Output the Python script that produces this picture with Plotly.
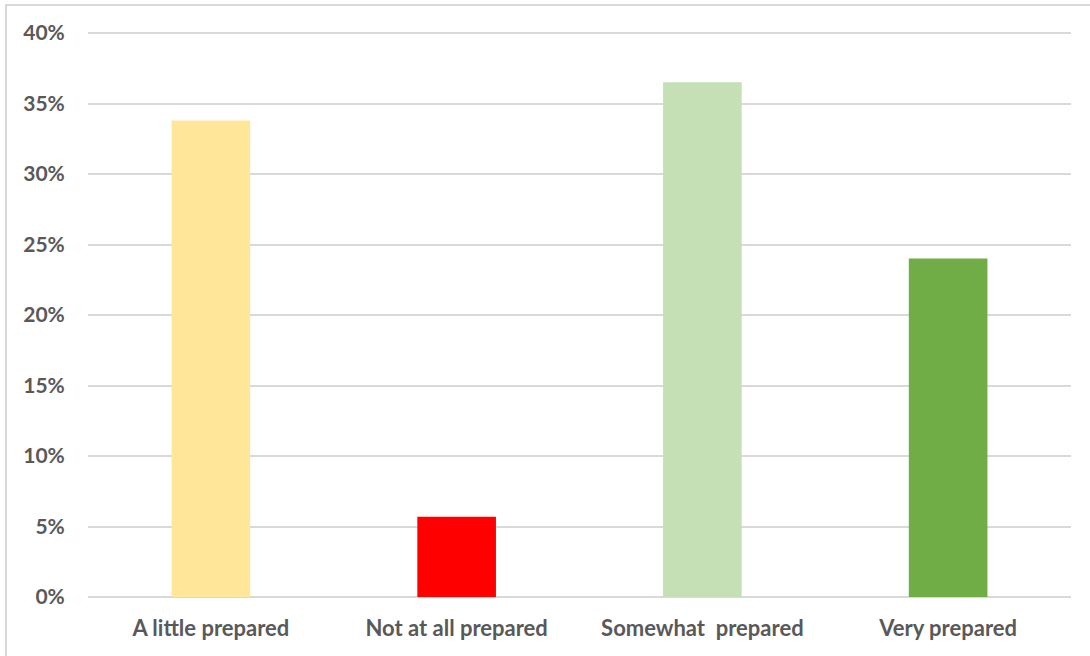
import plotly.graph_objects as go

# Survey responses: share of respondents by preparedness level
categories = ["A little prepared", "Not at all prepared", "Somewhat\u00a0 prepared", "Very prepared"]
shares = [0.338, 0.057, 0.365, 0.240]
bar_colors = ["#FFE699", "#FF0000", "#C5E0B4", "#70AD47"]
y_ticks = [0, 0.05, 0.10, 0.15, 0.20, 0.25, 0.30, 0.35, 0.40]

base_font = dict(family="Lato, Carlito, Calibri, sans-serif", color="#595959", weight="bold")
x_font = dict(base_font, size=22)
y_font = dict(base_font, size=21)

fig = go.Figure(
    go.Bar(
        x=categories,
        y=shares,
        marker=dict(color=bar_colors, line=dict(width=0)),
        hoverinfo="x+y",
    )
)

# Pixel geometry: the 0%..40% span runs from y=597 to y=33, x from 88 to 1071
W, H = 1090, 656
grid_left, grid_right, grid_top, grid_bottom = 88, 1071, 33, 597
edge = 2  # extra pixels above and below so the end gridlines are kept
span_px = grid_bottom - grid_top
pad = 0.4 * edge / span_px

left, right = grid_left, W - grid_right
top, bottom = grid_top - edge, H - grid_bottom - edge
pw, ph = W - left - right, H - top - bottom

def px_x(v):
    return (v - left) / pw

def px_y(v):
    return (H - bottom - v) / ph

fig.update_layout(
    width=W,
    height=H,
    margin=dict(l=left, r=right, t=top, b=bottom),
    paper_bgcolor="white",
    plot_bgcolor="white",
    bargap=0.68,
    showlegend=False,
    font=x_font,
    xaxis=dict(
        showgrid=False,
        showline=False,
        zeroline=False,
        ticks="outside",
        ticklen=10,
        tickcolor="rgba(0,0,0,0)",
        tickfont=x_font,
    ),
    yaxis=dict(
        range=[-pad, 0.4 + pad],
        tickvals=y_ticks,
        tickformat=".0%",
        showgrid=True,
        gridcolor="#D9D9D9",
        gridwidth=1.5,
        zeroline=False,
        showline=False,
        ticks="outside",
        ticklen=18,
        tickcolor="rgba(0,0,0,0)",
        tickfont=y_font,
    ),
    shapes=[
        dict(
            type="rect",
            xref="paper",
            yref="paper",
            x0=px_x(6),
            x1=px_x(W + 20),
            y0=px_y(H + 20),
            y1=px_y(5),
            line=dict(color="#D9D9D9", width=2),
            fillcolor="rgba(0,0,0,0)",
            layer="below",
        )
    ],
)

fig.write_html("out.html")
